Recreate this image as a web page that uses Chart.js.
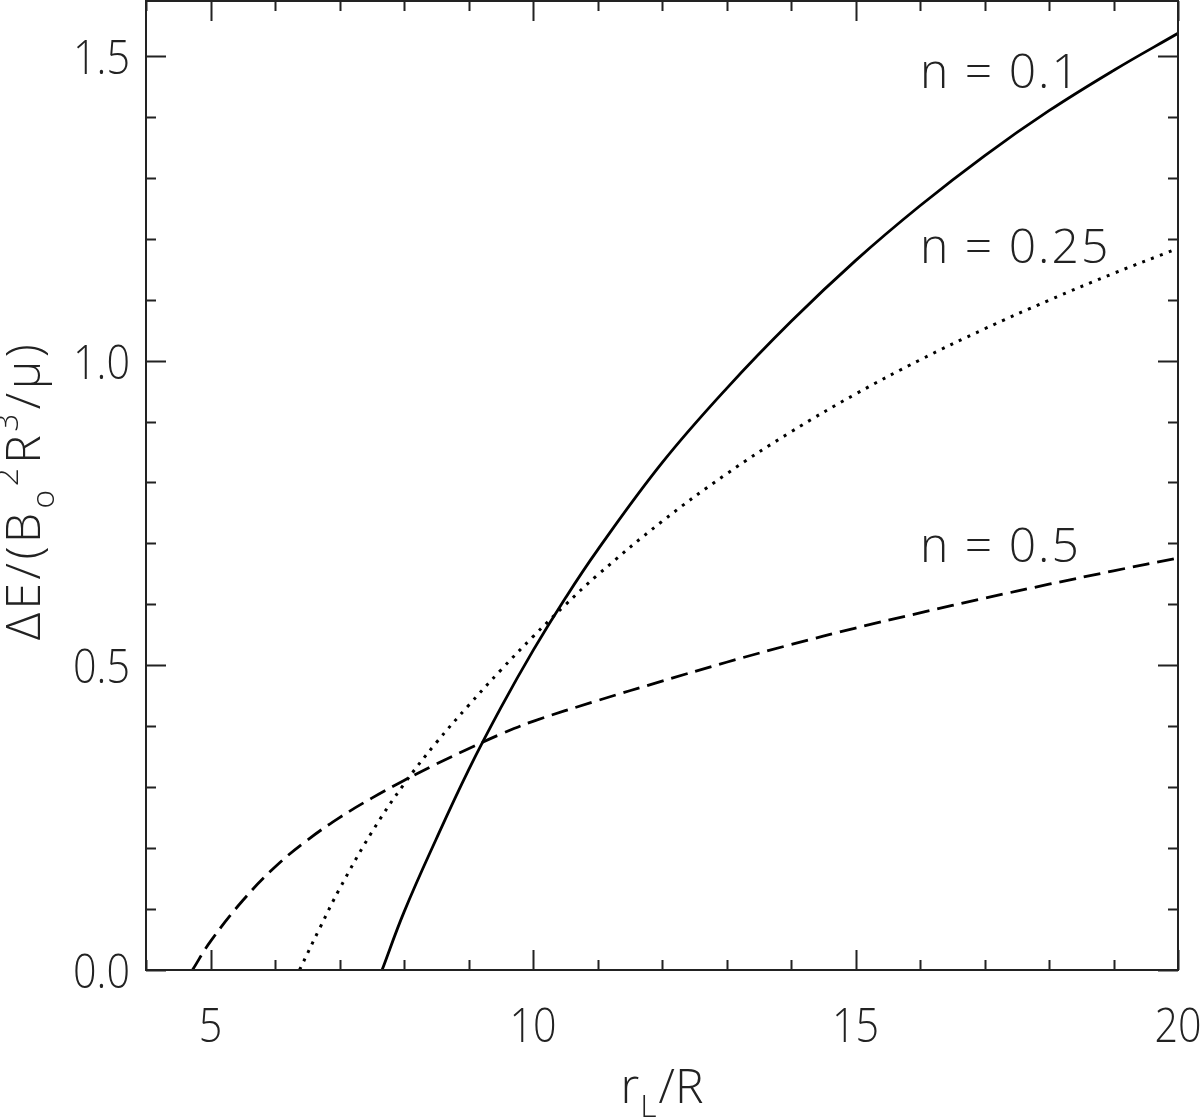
<!DOCTYPE html>
<html>
<head>
<meta charset="utf-8">
<script src="https://cdn.jsdelivr.net/npm/chart.js@4.4.0/dist/chart.umd.min.js"></script>
<style>
  html, body { margin: 0; padding: 0; background: #fff; }
  #wrap { width: 1200px; height: 1118px; }
</style>
</head>
<body>
<div id="wrap"><canvas id="chart" width="1200" height="1118"></canvas></div>
<script>
// Delta E vs r_L/R for three values of n

// --- Axis ticks ---
const xTicks = [5, 10, 15, 20];
const yTicks = [0.0, 0.5, 1.0, 1.5];
const xTickLabels = ["5", "10", "15", "20"];
const yTickLabels = ["0.0", "0.5", "1.0", "1.5"];
const xMinorStep = 1;
const yMinorStep = 0.1;

// --- n = 0.1 (solid) ---
const rN01 = [7.66, 8.0, 8.5, 9.0, 9.5, 10.0, 10.5, 11.0, 12.0, 13.0, 14.0, 15.0, 16.0, 17.0, 18.0, 19.0, 20.0];
const eN01 = [0.0, 0.095, 0.215, 0.328, 0.430, 0.524, 0.610, 0.689, 0.832, 0.954, 1.064, 1.164, 1.254, 1.336, 1.410, 1.476, 1.537];

// --- n = 0.25 (dotted) ---
const rN025 = [6.38, 6.7, 7.0, 7.5, 8.0, 8.5, 9.0, 9.5, 10.0, 10.5, 11.0, 12.0, 13.0, 14.0, 15.0, 16.0, 17.0, 18.0, 19.0, 20.0];
const eN025 = [0.0, 0.070, 0.133, 0.226, 0.305, 0.373, 0.434, 0.492, 0.547, 0.599, 0.648, 0.736, 0.814, 0.883, 0.945, 1.001, 1.052, 1.099, 1.143, 1.184];

// --- n = 0.5 (dashed) ---
const rN05 = [4.72, 5.0, 5.5, 6.0, 6.5, 7.0, 7.5, 8.0, 8.5, 9.0, 9.5, 10.0, 11.0, 12.0, 13.0, 14.0, 15.0, 16.0, 17.0, 18.0, 19.0, 20.0];
const eN05 = [0.0, 0.047, 0.114, 0.169, 0.213, 0.250, 0.282, 0.311, 0.338, 0.363, 0.387, 0.408, 0.442, 0.474, 0.505, 0.534, 0.561, 0.586, 0.610, 0.633, 0.655, 0.676];

// curve labels (data coords of label start / baseline)
const labelText = ["n = 0.1", "n = 0.25", "n = 0.5"];
const labelX = [16, 16, 16];
const labelY = [1.448, 1.160, 0.670];

const FONT = '"Open Sans", "DejaVu Sans", sans-serif';
const INK = "#222";

function toPoints(xs, ys) {
  return xs.map((x, i) => ({ x: x, y: ys[i] }));
}

// --- rich text helper (sub/superscripts) ---
function drawRich(ctx, segs, size, cx, baseY, spacing) {
  const parts = segs.map(s => {
    const sz = s.k === "main" ? size : size * 0.66;
    ctx.font = "300 " + sz + "px " + FONT;
    ctx.letterSpacing = (spacing || 0) + "px";
    return { t: s.t, sz: sz, w: ctx.measureText(s.t).width + (s.gap || 0), k: s.k };
  });
  const total = parts.reduce((a, p) => a + p.w, 0);
  let x = cx - total / 2;
  ctx.textBaseline = "alphabetic";
  ctx.textAlign = "left";
  parts.forEach(p => {
    ctx.font = "300 " + p.sz + "px " + FONT;
    let dy = 0;
    if (p.k === "sub") dy = size * 0.30;
    if (p.k === "sup") dy = -size * 0.45;
    ctx.fillText(p.t, x, baseY + dy);
    x += p.w;
  });
  ctx.letterSpacing = "0px";
}

// --- inward ticks on all four sides, frame, tick labels, titles, labels ---
const framePlugin = {
  id: "frameTicks",
  afterDraw(chart) {
    const ctx = chart.ctx;
    const xs = chart.scales.x, ys = chart.scales.y;
    const { left, right, top, bottom } = chart.chartArea;
    ctx.save();
    ctx.strokeStyle = INK;
    ctx.lineWidth = 2;
    ctx.strokeRect(left, top, right - left, bottom - top);

    ctx.beginPath();
    for (let v = xs.min; v <= xs.max + 1e-9; v += xMinorStep) {
      const px = Math.round(xs.getPixelForValue(v)) + 0.5;
      const len = xTicks.includes(Math.round(v)) ? 20 : 10;
      ctx.moveTo(px, bottom); ctx.lineTo(px, bottom - len);
      ctx.moveTo(px, top); ctx.lineTo(px, top + len);
    }
    for (let k = 0; k * yMinorStep <= ys.max + 1e-9; k++) {
      const v = k * yMinorStep;
      const py = Math.round(ys.getPixelForValue(v)) + 0.5;
      const len = (k % 5 === 0) ? 20 : 10;
      ctx.moveTo(left, py); ctx.lineTo(left + len, py);
      ctx.moveTo(right, py); ctx.lineTo(right - len, py);
    }
    ctx.stroke();

    ctx.fillStyle = INK;
    ctx.font = "300 48px " + FONT;
    ctx.textBaseline = "alphabetic";

    // tick labels, a little condensed
    ctx.textAlign = "center";
    xTicks.forEach((v, i) => {
      ctx.save();
      ctx.translate(xs.getPixelForValue(v), bottom + 72);
      ctx.scale(0.86, 1);
      ctx.fillText(xTickLabels[i], 0, 0);
      ctx.restore();
    });
    ctx.textAlign = "right";
    yTicks.forEach((v, i) => {
      ctx.save();
      ctx.translate(left - 16, ys.getPixelForValue(v) + 18);
      ctx.scale(0.86, 1);
      ctx.fillText(yTickLabels[i], 0, 0);
      ctx.restore();
    });

    // x title
    drawRich(ctx, [
      { t: "r", k: "main", gap: 1 },
      { t: "L", k: "sub", gap: 2 },
      { t: "/R", k: "main" }
    ], 48, (left + right) / 2, 1103, 0);

    // y title (rotated)
    ctx.save();
    ctx.translate(40, (top + bottom) / 2 + 5);
    ctx.rotate(-Math.PI / 2);
    drawRich(ctx, [
      { t: "ΔE/(B", k: "main", gap: 1 },
      { t: "o", k: "sub", gap: 0 },
      { t: "2", k: "sup", gap: 1 },
      { t: "R", k: "main", gap: 0 },
      { t: "3", k: "sup", gap: 1 },
      { t: "/μ)", k: "main" }
    ], 48, 0, 0, 3.5);
    ctx.restore();

    // curve labels
    ctx.font = "300 48px " + FONT;
    ctx.letterSpacing = "2px";
    ctx.textAlign = "left";
    ctx.textBaseline = "alphabetic";
    labelText.forEach((t, i) => {
      ctx.fillText(t, xs.getPixelForValue(labelX[i]), ys.getPixelForValue(labelY[i]));
    });
    ctx.letterSpacing = "0px";
    ctx.restore();
  }
};

const ctx = document.getElementById("chart").getContext("2d");
new Chart(ctx, {
  type: "line",
  data: {
    datasets: [
      {
        label: "n = 0.1",
        data: toPoints(rN01, eN01),
        borderColor: "#000",
        borderWidth: 2.8,
        pointRadius: 0,
        tension: 0.4
      },
      {
        label: "n = 0.25",
        data: toPoints(rN025, eN025),
        borderColor: "#000",
        borderWidth: 3,
        borderDash: [3, 6.5],
        pointRadius: 0,
        tension: 0.4
      },
      {
        label: "n = 0.5",
        data: toPoints(rN05, eN05),
        borderColor: "#000",
        borderWidth: 2.8,
        borderDash: [17, 8],
        pointRadius: 0,
        tension: 0.4
      }
    ]
  },
  options: {
    responsive: false,
    devicePixelRatio: 1,
    animation: false,
    layout: { padding: { top: 1, right: 22, left: 0, bottom: 0 } },
    plugins: {
      legend: { display: false },
      tooltip: { enabled: false }
    },
    scales: {
      x: {
        type: "linear",
        min: 4,
        max: 20,
        grid: { display: false, drawTicks: false },
        border: { display: false },
        ticks: { display: false },
        afterFit: axis => {
          axis.height = 148;
          axis.paddingLeft = 0; axis.paddingRight = 0;
          axis.paddingTop = 0; axis.paddingBottom = 0;
        }
      },
      y: {
        type: "linear",
        min: 0,
        max: 1.59,
        grid: { display: false, drawTicks: false },
        border: { display: false },
        ticks: { display: false },
        afterFit: axis => {
          axis.width = 146;
          axis.paddingLeft = 0; axis.paddingRight = 0;
          axis.paddingTop = 0; axis.paddingBottom = 0;
        }
      }
    }
  },
  plugins: [framePlugin]
});
</script>
</body>
</html>
